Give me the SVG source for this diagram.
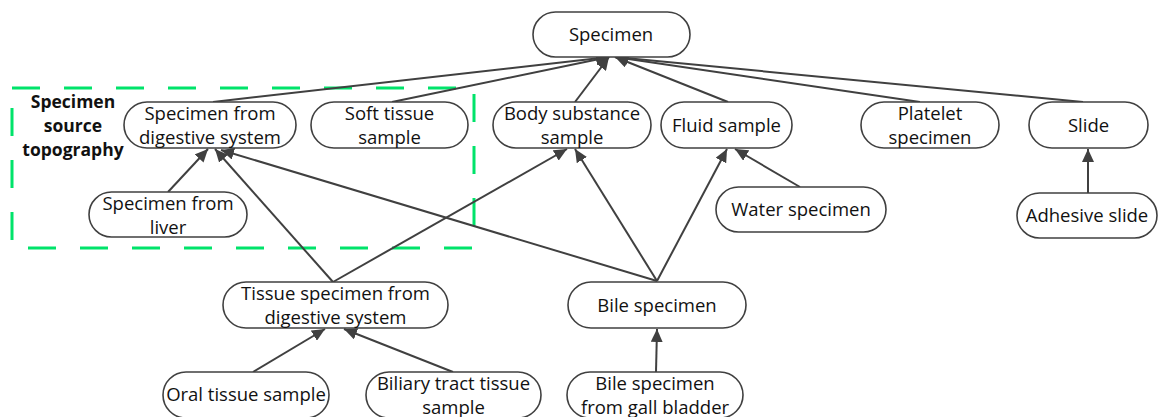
<svg xmlns="http://www.w3.org/2000/svg" width="1160" height="417" viewBox="0 0 1160 417">
<defs>
<marker id="arr" markerUnits="userSpaceOnUse" markerWidth="14" markerHeight="12" refX="13" refY="6" orient="auto">
<path d="M0,0 L13,6 L0,12 z" fill="#404040"/>
</marker>
<style>
.node rect{fill:#fff;stroke:#404040;stroke-width:1.6}
.node text{font-family:"Open Sans","Noto Sans",sans-serif;font-size:18.5px;fill:#111;text-anchor:middle}
#edges line{stroke:#404040;stroke-width:2;marker-end:url(#arr)}
.grp{fill:none;stroke:#00e36a;stroke-width:3;stroke-dasharray:28 24}
.lbl{font-family:"Open Sans","Noto Sans",sans-serif;font-size:17.5px;font-weight:bold;fill:#111;text-anchor:middle}
</style>
</defs>
<rect width="1160" height="417" fill="#fff"/>
<g id="group-source-topography">
<rect class="grp" x="12" y="88" width="462" height="160"/>
<text class="lbl" x="73" y="108">Specimen</text>
<text class="lbl" x="73" y="132">source</text>
<text class="lbl" x="73" y="156">topography</text>
</g>
<g id="edges">
<line x1="213" y1="102" x2="609" y2="57"/>
<line x1="392" y1="102" x2="609" y2="57"/>
<line x1="575" y1="102" x2="609" y2="57"/>
<line x1="728" y1="102" x2="615" y2="57"/>
<line x1="920" y1="102" x2="615" y2="57"/>
<line x1="1083" y1="102" x2="615" y2="57"/>
<line x1="168" y1="192" x2="208" y2="149"/>
<line x1="333" y1="282" x2="215" y2="149"/>
<line x1="657" y1="281" x2="221" y2="150"/>
<line x1="333" y1="282" x2="567" y2="149"/>
<line x1="657" y1="281" x2="575" y2="149"/>
<line x1="657" y1="281" x2="727" y2="149"/>
<line x1="800" y1="187" x2="735" y2="149"/>
<line x1="1088" y1="193" x2="1088" y2="149"/>
<line x1="253" y1="372" x2="325" y2="329"/>
<line x1="453" y1="372" x2="344" y2="329"/>
<line x1="656" y1="372" x2="657" y2="329"/>
</g>
<g id="n-specimen" class="node"><rect x="533" y="12" width="157" height="45" rx="22.5"/><text x="611" y="41">Specimen</text></g>
<g id="n-digestive" class="node"><rect x="124" y="102" width="172" height="46" rx="23"/><text x="210" y="120">Specimen from</text><text x="210" y="144">digestive system</text></g>
<g id="n-soft" class="node"><rect x="311" y="102" width="157" height="46" rx="23"/><text x="389.5" y="120">Soft tissue</text><text x="389.5" y="144">sample</text></g>
<g id="n-body" class="node"><rect x="493" y="102" width="158" height="46" rx="23"/><text x="572" y="120">Body substance</text><text x="572" y="144">sample</text></g>
<g id="n-fluid" class="node"><rect x="661" y="102" width="131" height="46" rx="23"/><text x="726.5" y="132">Fluid sample</text></g>
<g id="n-platelet" class="node"><rect x="861" y="102" width="138" height="46" rx="23"/><text x="930" y="120">Platelet</text><text x="930" y="144">specimen</text></g>
<g id="n-slide" class="node"><rect x="1029" y="102" width="119" height="46" rx="23"/><text x="1088.5" y="132">Slide</text></g>
<g id="n-liver" class="node"><rect x="89" y="192" width="158" height="45" rx="22.5"/><text x="168" y="210">Specimen from</text><text x="168" y="234">liver</text></g>
<g id="n-water" class="node"><rect x="716" y="187" width="170" height="45" rx="22.5"/><text x="801" y="216">Water specimen</text></g>
<g id="n-adhesive" class="node"><rect x="1017" y="193" width="140" height="45" rx="22.5"/><text x="1087" y="222">Adhesive slide</text></g>
<g id="n-tissue" class="node"><rect x="223" y="282" width="225" height="46" rx="23"/><text x="335.5" y="300">Tissue specimen from</text><text x="335.5" y="324">digestive system</text></g>
<g id="n-bile" class="node"><rect x="568" y="282" width="178" height="46" rx="23"/><text x="657" y="312">Bile specimen</text></g>
<g id="n-oral" class="node"><rect x="163" y="372" width="166" height="46" rx="23"/><text x="246" y="401">Oral tissue sample</text></g>
<g id="n-biliary" class="node"><rect x="366" y="372" width="175" height="46" rx="23"/><text x="453.5" y="390">Biliary tract tissue</text><text x="453.5" y="414">sample</text></g>
<g id="n-gall" class="node"><rect x="567" y="372" width="176" height="46" rx="23"/><text x="655" y="390">Bile specimen</text><text x="655" y="414">from gall bladder</text></g>
</svg>
